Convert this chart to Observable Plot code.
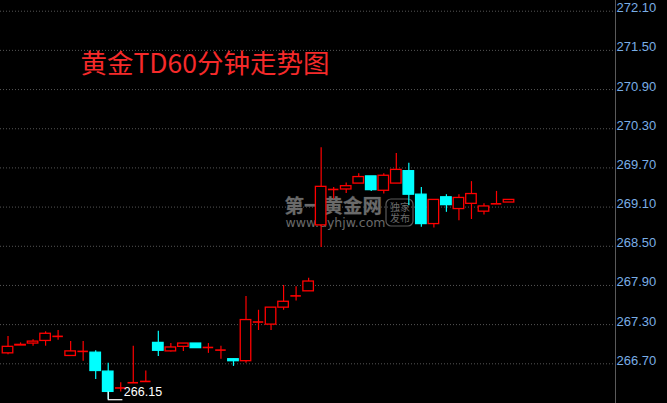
<!DOCTYPE html>
<html>
<head>
<meta charset="utf-8">
<script src="https://cdn.jsdelivr.net/npm/d3@7"></script>
<script src="https://cdn.jsdelivr.net/npm/@observablehq/plot@0.6"></script>
<style>
  html, body { margin: 0; padding: 0; background: #000; }
  #chart { width: 667px; height: 403px; overflow: hidden; }
</style>
</head>
<body>
<div id="chart"></div>
<script>
const title = "黄金TD60分钟走势图";
const open  = [266.86,266.98,267.01,267.05,267.12,266.82,266.89,266.87,266.58,266.33,266.41,266.43,267.02,266.89,266.96,267.01,266.95,266.91,266.77,266.74,267.34,267.30,267.56,267.74,267.81,268.82,269.37,269.37,269.46,269.57,269.35,269.46,269.65,269.29,268.84,269.25,269.07,269.15,269.03,269.15,269.17];
const high  = [267.12,267.02,267.07,267.19,267.21,267.04,267.04,266.90,266.71,266.41,266.97,266.59,267.20,267.01,267.01,267.01,267.01,266.97,266.77,267.73,267.52,267.56,267.90,267.88,268.01,270.01,269.40,269.47,269.61,269.57,269.61,269.92,269.77,269.40,269.21,269.29,269.29,269.49,269.15,269.34,269.21];
const low   = [266.84,266.98,266.97,266.97,267.06,266.82,266.74,266.46,266.15,266.27,266.40,266.43,266.81,266.88,266.89,266.94,266.86,266.77,266.66,266.71,267.21,267.21,267.52,267.66,267.81,268.48,269.22,269.31,269.46,269.34,269.30,269.46,269.12,268.79,268.78,269.02,268.89,268.91,268.98,269.15,269.17];
const close = [266.96,266.99,267.04,267.16,267.12,266.89,266.89,266.59,266.27,266.33,266.41,266.43,266.90,266.95,267.01,266.94,266.95,266.91,266.74,267.37,267.34,267.56,267.65,267.74,267.96,269.41,269.37,269.42,269.56,269.36,269.58,269.67,269.29,268.84,269.21,269.13,269.24,269.30,269.11,269.15,269.21];
const yTicks = [266.70,267.30,267.90,268.50,269.10,269.70,270.30,270.90,271.50,272.10];

const RED = "#ff0000", CYAN = "#00ffff";
const xDomain = [-0.6, 48.5];
const half = 0.42;

const data = open.map((o, i) => ({i, open: o, high: high[i], low: low[i], close: close[i]}));
const up = d => d.close > d.open;
const color = d => d.close >= d.open ? RED : CYAN;
const bodies = data.filter(d => d.close !== d.open);
const dojis = data.filter(d => d.close === d.open);

const minIdx = d3.minIndex(low);
const lowRec = data[minIdx];
const labelOffset = 1.17;

const plot = Plot.plot({
  width: 667,
  height: 403,
  marginLeft: 0,
  marginRight: 52,
  marginTop: 0,
  marginBottom: 0,
  style: {background: "#000", overflow: "visible"},
  x: {type: "linear", domain: xDomain, axis: null},
  y: {domain: [266.092, 272.264], axis: null},
  marks: [
    Plot.gridY(yTicks, {stroke: "#555", strokeOpacity: 1, strokeDasharray: "1,2"}),
    Plot.ruleX([xDomain[1]], {stroke: "#5a5a5a"}),
    Plot.text(yTicks, {y: d => d, text: d => d.toFixed(2), frameAnchor: "right", textAnchor: "start", lineAnchor: "bottom", dx: 1, dy: 1, fill: "#7aaee6", fontSize: 13, fontFamily: "Liberation Sans, Arial, sans-serif"}),
    Plot.text([title], {frameAnchor: "top-left", dx: 80, dy: 64.5, textAnchor: "start", lineAnchor: "middle", fontSize: 26.5, fill: "#f52a2a", fontFamily: "Noto Sans CJK SC, sans-serif"}),
    // watermark
    Plot.text(["第一黄金网"], {frameAnchor: "top-left", dx: 284, dy: 206, textAnchor: "start", lineAnchor: "middle", fontSize: 19.5, fontWeight: "bold", fill: "#6a6a6a", stroke: "#2a2a2a", strokeWidth: 0.6, fontFamily: "Noto Sans CJK SC, sans-serif"}),
    Plot.text(["www.dyhjw.com"], {frameAnchor: "top-left", dx: 285, dy: 222.5, textAnchor: "start", lineAnchor: "middle", fontSize: 12.5, fill: "#6a6a6a", fontFamily: "DejaVu Sans, sans-serif", letterSpacing: "0.6px"}),
    Plot.text(["独家\n发布"], {frameAnchor: "top-left", dx: 399.5, dy: 212.5, textAnchor: "middle", lineAnchor: "middle", fontSize: 10, lineHeight: 1.15, fill: "#6a6a6a", fontFamily: "Noto Sans CJK SC, sans-serif"}),
    // wicks
    Plot.ruleX(data, {x: "i", y1: "low", y2: "high", stroke: color, strokeWidth: 1.2}),
    // bodies
    Plot.rect(bodies, {
      x1: d => d.i - half, x2: d => d.i + half,
      y1: "open", y2: "close",
      fill: d => up(d) ? "#000" : CYAN,
      stroke: color, strokeWidth: 1.3
    }),
    Plot.ruleY(dojis, {y: "open", x1: d => d.i - half, x2: d => d.i + half, stroke: color, strokeWidth: 1.6}),
    // low marker
    Plot.ruleX([lowRec], {x: "i", y1: "close", y2: "low", stroke: "#fff", strokeWidth: 1.2}),
    Plot.ruleY([lowRec], {y: "low", x1: "i", x2: d => d.i + labelOffset, stroke: "#fff", strokeWidth: 1.2}),
    Plot.text([lowRec], {x: d => d.i + labelOffset, y: "low", text: d => d.low.toFixed(2), textAnchor: "start", lineAnchor: "bottom", dx: 1, dy: -4, fill: "#fff", fontSize: 12.5, fontFamily: "Liberation Sans, Arial, sans-serif"})
  ]
});

// rounded box of the watermark badge
const svg = d3.select(plot);
svg.insert("rect", "g:nth-of-type(6)")
  .attr("x", 386).attr("y", 199).attr("width", 27).attr("height", 27)
  .attr("rx", 5).attr("fill", "none").attr("stroke", "#5a5a5a").attr("stroke-width", 1.2);

document.getElementById("chart").appendChild(plot);
</script>
</body>
</html>
